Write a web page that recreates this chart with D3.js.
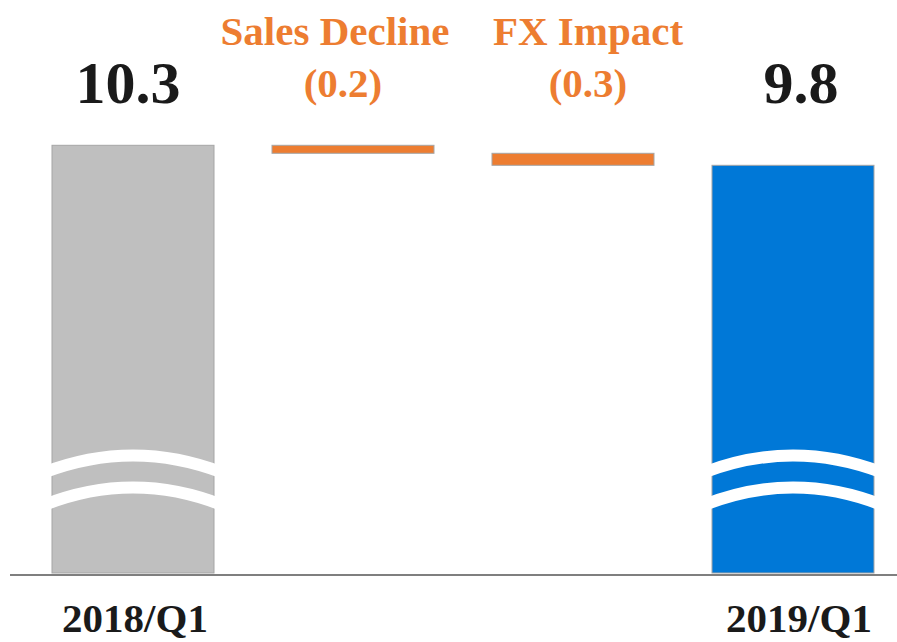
<!DOCTYPE html>
<html>
<head>
<meta charset="utf-8">
<script src="https://cdn.jsdelivr.net/npm/d3@7"></script>
<style>
  html, body { margin: 0; padding: 0; background: #fff; }
  svg { display: block; }
  text { font-family: "Liberation Serif", "Times New Roman", serif; font-weight: bold; }
</style>
</head>
<body>
<svg id="chart" width="897" height="642"></svg>
<script>
// ---- data ----
const categories = ["2018/Q1", "Sales Decline", "FX Impact", "2019/Q1"];
const kinds = ["total", "delta", "delta", "total"];
const values = [10.3, -0.2, -0.3, 9.8];
const valueLabels = ["10.3", "(0.2)", "(0.3)", "9.8"];
const axisLabels = ["2018/Q1", "", "", "2019/Q1"];
// broken value axis: bars start from this pseudo floor
const axisFloor = -0.39;
const axisTop = 10.3;

// ---- layout ----
const W = 897, H = 642;
const plotTop = 145.3, plotBottom = 573, baselineY = 575;
const colors = { first: "#BFBFBF", delta: "#ED7D31", last: "#0078D7" };
const labelDx = [-5, -10, 15, 8];   // value label nudges
const nameDx = [0, -18, 15, 0];      // delta name nudges
const axisDx = [2, 0, 0, 6];

const svg = d3.select("#chart");

const x = d3.scaleBand()
  .domain(categories)
  .range([52, 874])
  .paddingInner(0.2636)
  .paddingOuter(0);

const y = d3.scaleLinear()
  .domain([axisFloor, axisTop])
  .range([plotBottom, plotTop]);

// compute waterfall extents
let running = 0;
const bars = categories.map((c, i) => {
  let y0, y1;
  if (kinds[i] === "total") {
    y0 = axisFloor; y1 = values[i]; running = values[i];
  } else {
    y0 = running + values[i]; y1 = running; running = y0;
  }
  const fill = kinds[i] === "delta" ? colors.delta : (i === 0 ? colors.first : colors.last);
  return { c, i, y0, y1, fill };
});

// baseline
svg.append("line")
  .attr("x1", 10).attr("x2", W)
  .attr("y1", baselineY).attr("y2", baselineY)
  .attr("stroke", "#7f7f7f").attr("stroke-width", 2);

// bars
svg.selectAll("rect.bar").data(bars).join("rect")
  .attr("class", "bar")
  .attr("x", d => x(d.c))
  .attr("width", x.bandwidth())
  .attr("y", d => y(d.y1))
  .attr("height", d => y(d.y0) - y(d.y1))
  .attr("fill", d => d.fill)
  .attr("stroke", "#a6a6a6")
  .attr("stroke-width", 1);

// axis-break marks on total bars
const breakEdgeY = [472.5, 505];
const breakMidY = [455.5, 487.5];
bars.filter(d => kinds[d.i] === "total").forEach(d => {
  const x0 = x(d.c) - 8, x1 = x(d.c) + x.bandwidth() + 8;
  breakEdgeY.forEach((ye, k) => {
    const yc = 2 * breakMidY[k] - ye;
    svg.append("path")
      .attr("d", `M${x0},${ye} Q${(x0 + x1) / 2},${yc} ${x1},${ye}`)
      .attr("fill", "none")
      .attr("stroke", "#ffffff")
      .attr("stroke-width", 12);
  });
});

// value labels
bars.forEach(d => {
  const cx = x(d.c) + x.bandwidth() / 2;
  if (kinds[d.i] === "total") {
    svg.append("text")
      .attr("x", cx + labelDx[d.i]).attr("y", 103)
      .attr("text-anchor", "middle")
      .attr("font-size", 60)
      .attr("fill", "#1a1a1a")
      .text(valueLabels[d.i]);
    svg.append("text")
      .attr("x", cx + axisDx[d.i]).attr("y", 632)
      .attr("text-anchor", "middle")
      .attr("font-size", 41)
      .attr("fill", "#1a1a1a")
      .text(axisLabels[d.i]);
  } else {
    svg.append("text")
      .attr("x", cx + nameDx[d.i]).attr("y", 45)
      .attr("text-anchor", "middle")
      .attr("font-size", 41)
      .attr("fill", colors.delta)
      .text(d.c);
    svg.append("text")
      .attr("x", cx + labelDx[d.i]).attr("y", 97)
      .attr("text-anchor", "middle")
      .attr("font-size", 41)
      .attr("fill", colors.delta)
      .text(valueLabels[d.i]);
  }
});
</script>
</body>
</html>
